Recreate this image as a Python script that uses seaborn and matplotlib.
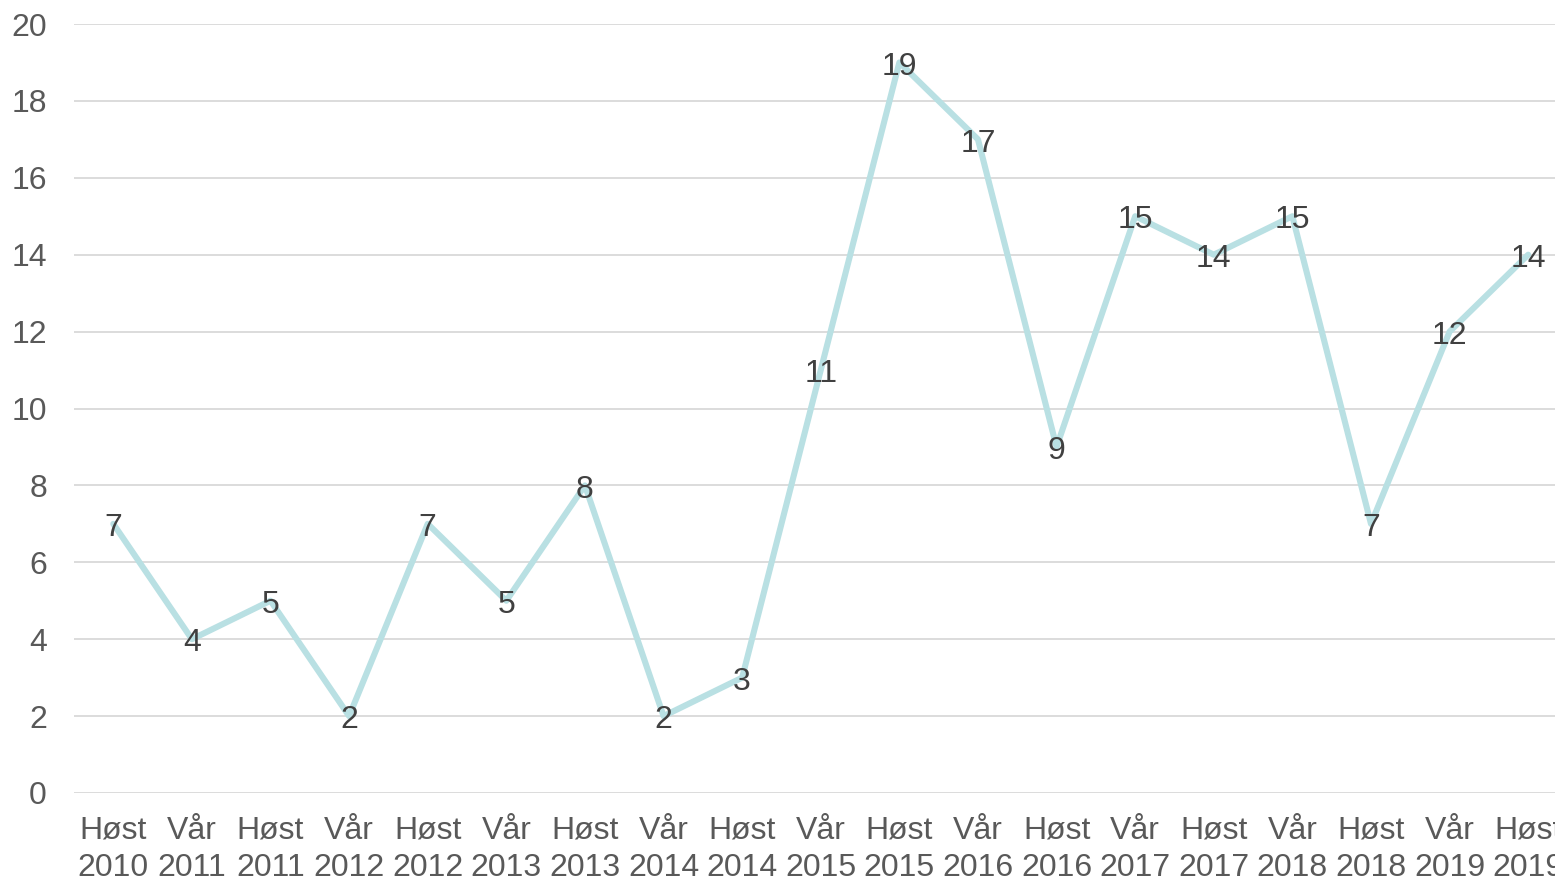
import matplotlib
matplotlib.use('Agg')
import matplotlib.pyplot as plt
import seaborn as sns
import pandas as pd

semestre = ['Høst\n2010', 'Vår\n2011', 'Høst\n2011', 'Vår\n2012', 'Høst\n2012', 'Vår\n2013',
            'Høst\n2013', 'Vår\n2014', 'Høst\n2014', 'Vår\n2015', 'Høst\n2015', 'Vår\n2016',
            'Høst\n2016', 'Vår\n2017', 'Høst\n2017', 'Vår\n2018', 'Høst\n2018', 'Vår\n2019',
            'Høst\n2019']
antall = [7, 4, 5, 2, 7, 5, 8, 2, 3, 11, 19, 17, 9, 15, 14, 15, 7, 12, 14]

sns.set_style('white')
plt.rcParams['font.family'] = ['Liberation Sans', 'DejaVu Sans']

df = pd.DataFrame({'semester': semestre, 'antall': antall})

fig = plt.figure(figsize=(15.55, 8.81), dpi=100)
ax = fig.add_axes([74 / 1555, 88 / 881, 1493.5 / 1555, 769 / 881])
sns.lineplot(data=df, x='semester', y='antall', color='#B9E0E3', linewidth=4.4,
             solid_capstyle='round', ax=ax)
# dataetiketter midt på punktene
for i, v in enumerate(antall):
    ax.annotate(str(v), (i, v), xytext=(0, -3), textcoords='offset points',
                ha='center', va='center', fontsize=23, color='#404040')

ax.set_xlim(-0.5, len(semestre) - 0.5)
ax.set_ylim(0, 20)
ax.set_yticks(range(0, 21, 2))
ax.grid(axis='y', color='#D9D9D9', linewidth=1.3)
ax.set_axisbelow(True)
for s in ax.spines.values():
    s.set_visible(False)
ax.tick_params(axis='both', length=0, labelsize=23, labelcolor='#595959')
ax.tick_params(axis='x', pad=16.5)
ax.tick_params(axis='y', pad=19.5)
for t in ax.get_xticklabels():
    t.set_linespacing(1.3)
ax.set_xlabel('')
ax.set_ylabel('')

fig.savefig('out.png', dpi=100)
plt.close()
